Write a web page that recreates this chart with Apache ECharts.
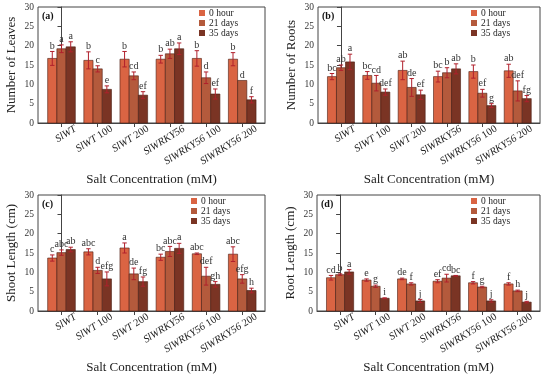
<!DOCTYPE html>
<html><head><meta charset="utf-8">
<script src="https://cdn.jsdelivr.net/npm/echarts@6/dist/echarts.min.js"></script>
<style>html,body{margin:0;padding:0;background:#fff}#c{width:550px;height:377px}</style>
</head><body><div id="c"></div>
<script>
const categories = ["SlWT","SlWT 100","SlWT 200","SlWRKY56","SlWRKY56 100","SlWRKY56 200"];
const seriesNames = ["0 hour","21 days","35 days"];
const yTicks = [0,5,10,15,20,25,30];

// (a) Number of Leaves
const leaves0 = [16.7,16.2,16.5,16.5,16.7,16.5];
const leaves0Err = [1.8,2.2,2.0,1.0,2.0,1.7];
const leaves0Let = ["b","b","b","b","b","b"];
const leaves21 = [19.2,14.0,12.2,17.9,11.7,11.0];
const leaves21Err = [1.0,0.8,1.0,1.2,1.5,0.0];
const leaves21Let = ["a","c","cd","ab","d","d"];
const leaves35 = [19.7,8.7,7.2,19.2,7.5,6.0];
const leaves35Err = [1.3,0.9,0.9,1.5,1.3,0.8];
const leaves35Let = ["a","e","ef","a","ef","f"];

// (b) Number of Roots
const roots0 = [12.0,12.3,13.6,12.0,13.3,13.5];
const roots0Err = [0.8,1.0,2.4,1.4,1.7,1.7];
const roots0Let = ["bc","bc","ab","bc","b","ab"];
const roots21 = [14.3,10.3,9.2,13.0,7.7,8.3];
const roots21Err = [0.7,2.0,2.3,1.3,1.0,2.6];
const roots21Let = ["ab","cd","de","b","ef","def"];
const roots35 = [15.8,8.0,7.3,14.0,4.5,6.3];
const roots35Err = [2.0,0.8,1.2,1.3,0.5,0.8];
const roots35Let = ["a","def","ef","ab","g","fg"];

// (c) Shoot Length
const shoot0 = [13.7,15.3,16.3,13.9,14.8,14.7];
const shoot0Err = [0.8,0.8,1.3,0.8,0.2,1.9];
const shoot0Let = ["c","abc","a","bc","abc","abc"];
const shoot21 = [15.1,10.5,9.6,15.4,9.0,8.3];
const shoot21Err = [0.7,0.8,1.5,1.3,2.3,1.1];
const shoot21Let = ["abc","d","de","abc","def","efg"];
const shoot35 = [15.9,8.3,7.6,16.2,6.9,5.3];
const shoot35Err = [0.6,1.8,1.2,1.3,0.7,0.6];
const shoot35Let = ["ab","efg","fg","a","gh","h"];

// (d) Root Length
const rootLen0 = [8.6,8.0,8.3,7.7,7.3,7.0];
const rootLen0Err = [0.6,0.3,0.2,0.4,0.3,0.3];
const rootLen0Let = ["cd","e","de","ef","f","f"];
const rootLen21 = [9.4,6.4,7.0,8.5,6.2,5.2];
const rootLen21Err = [0.2,0.3,0.3,1.0,0.2,0.2];
const rootLen21Let = ["b","g","f","cd","g","h"];
const rootLen35 = [10.1,3.3,2.6,9.1,2.6,2.3];
const rootLen35Err = [0.6,0.1,0.4,0.1,0.3,0.2];
const rootLen35Let = ["a","i","j","bc","j","j"];

const panels = [
  {tag:"(a)", yName:"Number of Leaves", vals:[leaves0,leaves21,leaves35], errs:[leaves0Err,leaves21Err,leaves35Err], lets:[leaves0Let,leaves21Let,leaves35Let],
   grid:{left:38,top:7,width:227,height:116}, legend:{left:199,top:8}},
  {tag:"(b)", yName:"Number of Roots", vals:[roots0,roots21,roots35], errs:[roots0Err,roots21Err,roots35Err], lets:[roots0Let,roots21Let,roots35Let],
   grid:{left:318,top:7,width:222,height:116}, legend:{left:471,top:8}},
  {tag:"(c)", yName:"Shoot Length (cm)", vals:[shoot0,shoot21,shoot35], errs:[shoot0Err,shoot21Err,shoot35Err], lets:[shoot0Let,shoot21Let,shoot35Let],
   grid:{left:38,top:195,width:227,height:116}, legend:{left:191,top:196}},
  {tag:"(d)", yName:"Root Length (cm)", vals:[rootLen0,rootLen21,rootLen35], errs:[rootLen0Err,rootLen21Err,rootLen35Err], lets:[rootLen0Let,rootLen21Let,rootLen35Let],
   grid:{left:317,top:195,width:223,height:116}, legend:{left:471,top:196}}
];

const colors = ["#DA6443","#B45A3C","#7A3424"];
const FONT = "Liberation Serif";
const BAR_W = 0.255;
const LABEL_SHIFT = 0.39;
const ERR_COLOR = "#B0202C";

function renderer(panel, k){
  return function(params, api){
    const i = params.dataIndex;
    const x = api.value(0), v = api.value(1), e = api.value(2);
    const bw = api.size([BAR_W, 0])[0];
    const base = api.coord([x, 0]);
    const top = api.coord([x, v]);
    const eT = api.coord([x, v + e]);
    const eB = api.coord([x, v - e]);
    const cx = base[0] + (k - 1) * bw;
    const cap = 2.2;
    const children = [
      {type:'rect', shape:{x:cx - bw/2, y:top[1], width:bw, height:base[1]-top[1]},
       style:{fill:colors[k], stroke:'#4a1c12', lineWidth:0.6}}
    ];
    if (e > 0) {
      children.push(
        {type:'line', shape:{x1:cx, y1:eT[1], x2:cx, y2:eB[1]}, style:{stroke:ERR_COLOR, lineWidth:1}},
        {type:'line', shape:{x1:cx-cap, y1:eT[1], x2:cx+cap, y2:eT[1]}, style:{stroke:ERR_COLOR, lineWidth:1}},
        {type:'line', shape:{x1:cx-cap, y1:eB[1], x2:cx+cap, y2:eB[1]}, style:{stroke:ERR_COLOR, lineWidth:1}}
      );
    }
    children.push({type:'text', x:cx, y:eT[1]-0.5,
      style:{text:panel.lets[k][i], fill:'#333', font:'10px "'+FONT+'"', align:'center', verticalAlign:'bottom'}});
    return {type:'group', children};
  };
}

const option = {
  animation:false,
  backgroundColor:'#fff',
  grid:[], xAxis:[], yAxis:[], legend:[], series:[], graphic:[]
};

panels.forEach((p, gi) => {
  option.grid.push(Object.assign({show:true, borderColor:'#444', borderWidth:1, backgroundColor:'transparent'}, p.grid));
  option.xAxis.push({
    type:'value', gridIndex:gi, min:-0.65, max:5.63,
    name:'Salt Concentration (mM)', nameLocation:'middle', nameGap:50,
    nameTextStyle:{fontFamily:FONT, fontSize:13, color:'#222'},
    axisLine:{show:true, lineStyle:{color:'#444', width:1}},
    axisTick:{show:true, inside:false, length:4, customValues:categories.map((_, i) => i), lineStyle:{color:'#444'}},
    splitLine:{show:false},
    axisLabel:{show:true, rotate:32, margin:5, fontFamily:FONT, fontSize:10.5, color:'#222',
      customValues:categories.map((_, i) => i + LABEL_SHIFT),
      formatter:(val) => {
        const name = categories[Math.round(val - LABEL_SHIFT)] || '';
        const sp = name.indexOf(' ');
        return sp < 0 ? '{i|' + name + '}' : '{i|' + name.slice(0, sp) + '}' + name.slice(sp);
      },
      rich:{i:{fontStyle:'italic', fontFamily:FONT, fontSize:10.5, color:'#222'}}
    }
  });
  option.yAxis.push({
    type:'value', gridIndex:gi, min:yTicks[0], max:yTicks[yTicks.length-1], interval:yTicks[1]-yTicks[0],
    name:p.yName, nameLocation:'middle', nameGap:20,
    nameTextStyle:{fontFamily:FONT, fontSize:13, color:'#222'},
    axisLine:{show:true, lineStyle:{color:'#444', width:1}},
    axisTick:{show:true, inside:false, length:4, lineStyle:{color:'#444'}},
    splitLine:{show:false},
    axisLabel:{fontFamily:FONT, fontSize:9.5, color:'#333', margin:4}
  });
  option.legend.push({
    left:p.legend.left, top:p.legend.top, orient:'vertical', itemWidth:6, itemHeight:6, itemGap:0,
    icon:'rect', padding:0, selectedMode:false,
    data:seriesNames,
    textStyle:{fontFamily:FONT, fontSize:9.5, color:'#222', padding:[0,0,0,-1], lineHeight:7.5}
  });
  seriesNames.forEach((nm, k) => {
    option.series.push({
      type:'custom', name:nm, xAxisIndex:gi, yAxisIndex:gi,
      itemStyle:{color:colors[k]},
      renderItem:renderer(p, k),
      data:categories.map((_, i) => [i, p.vals[k][i], p.errs[k][i]]),
      clip:false
    });
  });
  option.graphic.push({type:'text', left:p.grid.left + 4, top:p.grid.top + 4,
    style:{text:p.tag, font:'bold 10px "'+FONT+'"', fill:'#111'}});
});

const chart = echarts.init(document.getElementById('c'), null, {renderer:'canvas'});
chart.setOption(option);
</script>
</body></html>
